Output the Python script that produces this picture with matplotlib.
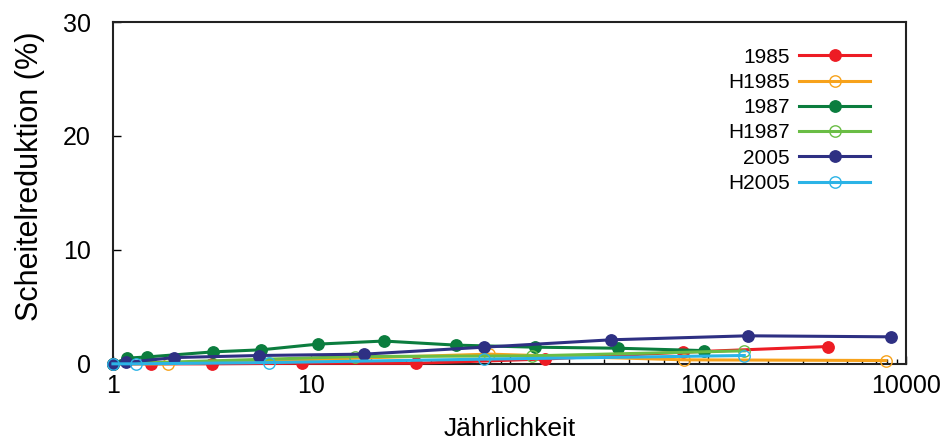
import matplotlib
matplotlib.use("Agg")
import matplotlib.pyplot as plt
from matplotlib.ticker import FixedLocator, FixedFormatter, LogLocator, NullFormatter

plt.rcParams['font.family'] = ['Liberation Sans', 'DejaVu Sans']

# Data (Jährlichkeit, Scheitelreduktion %)
x_1985 = [1, 1.55, 3.17, 9.0, 33.8, 150, 750, 4050]
y_1985 = [0.0, 0.0, 0.0, 0.05, 0.05, 0.42, 1.02, 1.52]

x_H1985 = [1, 1.9, 79, 757, 7900]
y_H1985 = [0.0, 0.0, 0.85, 0.35, 0.29]

x_1987 = [1, 1.18, 1.48, 3.21, 5.6, 10.8, 23.2, 53.8, 135, 350, 958]
y_1987 = [0.0, 0.5, 0.6, 1.05, 1.23, 1.73, 2.0, 1.64, 1.46, 1.37, 1.16]

x_H1987 = [1, 16.7, 130, 1525]
y_H1987 = [0.0, 0.64, 0.70, 1.14]

x_2005 = [1, 1.16, 2.04, 5.44, 18.5, 74, 326, 1586, 8400]
y_2005 = [0.0, 0.12, 0.55, 0.73, 0.85, 1.46, 2.11, 2.46, 2.37]

x_H2005 = [1, 1.3, 6.14, 74, 1525]
y_H2005 = [0.0, 0.0, 0.11, 0.41, 0.73]

x_ticks = [1, 10, 100, 1000, 10000]
x_tick_labels = ["1", "10", "100", "1000", "10000"]
y_ticks = [0, 10, 20, 30]

series = [
    ("1985", x_1985, y_1985, "#ed1c24", True),
    ("H1985", x_H1985, y_H1985, "#f7a21b", False),
    ("1987", x_1987, y_1987, "#0b7d3e", True),
    ("H1987", x_H1987, y_H1987, "#6abd45", False),
    ("2005", x_2005, y_2005, "#2e3083", True),
    ("H2005", x_H2005, y_H2005, "#2bb3e6", False),
]

fig = plt.figure(figsize=(9.49, 4.41), dpi=100)
ax = fig.add_axes([0.119, 0.175, 0.836, 0.775])

for label, xs, ys, col, filled in series:
    ax.plot(xs, ys, color=col, lw=2.2, marker='o', markersize=8.2,
            markerfacecolor=col if filled else 'none',
            markeredgecolor=col, markeredgewidth=1.0,
            label=label, clip_on=False, zorder=3)

ax.set_xscale('log')
ax.set_xlim(1, 10000)
ax.set_ylim(0, 30)
ax.xaxis.set_major_locator(FixedLocator(x_ticks))
ax.xaxis.set_major_formatter(FixedFormatter(x_tick_labels))
ax.xaxis.set_minor_locator(LogLocator(base=10, subs=range(2, 10)))
ax.xaxis.set_minor_formatter(NullFormatter())
ax.set_yticks(y_ticks)

ax.tick_params(axis='both', which='major', direction='in', length=6, width=1,
               labelsize=18, top=False, right=False)
ax.tick_params(axis='y', which='major', pad=16)
ax.tick_params(axis='x', which='major', pad=7)
ax.tick_params(axis='x', which='minor', direction='in', length=3.5, width=1,
               top=False)
for s in ax.spines.values():
    s.set_linewidth(1.5)
    s.set_color('#222222')

ax.set_xlabel("Jährlichkeit", fontsize=19, labelpad=14)
ax.set_ylabel("Scheitelreduktion (%)", fontsize=22)
ax.yaxis.set_label_coords(-0.085, 0.55)

leg = ax.legend(loc='upper right', frameon=False, markerfirst=False,
                fontsize=15, handlelength=3.4, labelspacing=0.3,
                bbox_to_anchor=(0.978, 0.98), handletextpad=0.45)
for t in leg.get_texts():
    t.set_ha('right')

fig.savefig("out.png", dpi=100)
